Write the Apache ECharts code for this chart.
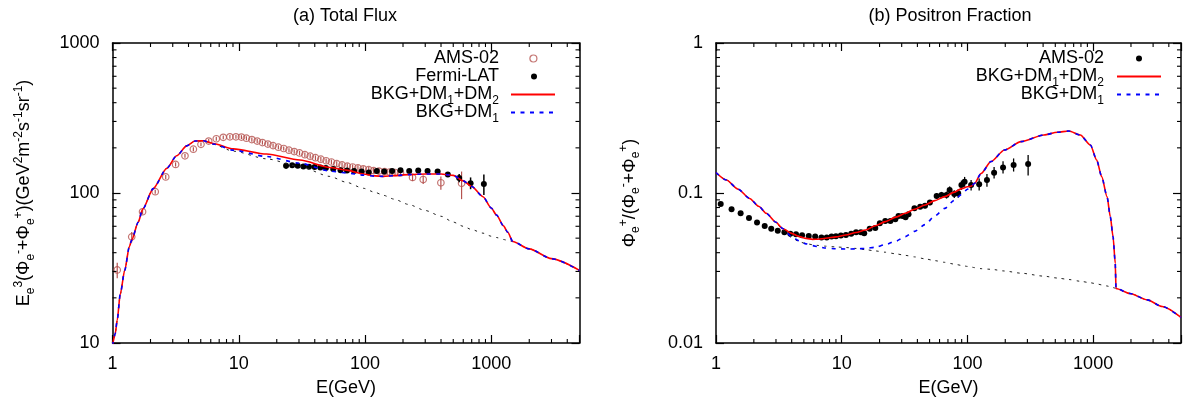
<!DOCTYPE html>
<html>
<head>
<meta charset="utf-8">
<script src="https://cdn.jsdelivr.net/npm/echarts@6/dist/echarts.min.js"></script>
<style>
  html, body { margin: 0; padding: 0; background: #fff; }
  #chart { width: 1184px; height: 402px; }
</style>
</head>
<body>
<div id="chart"></div>
<script>
// ---------- (a) Total Flux ----------
// model curves, E in GeV
const fluxE     = [1.0, 1.05, 1.09, 1.15, 1.25, 1.36, 1.42, 1.6, 1.73, 2.1, 2.69, 3.22, 3.87, 4.5, 5.24, 6.28, 9.06, 16.6, 30.5, 52.7, 71, 97, 120, 140, 170, 220, 300, 400, 500, 600, 700, 860, 1000, 1100, 1250, 1350, 1480, 2000, 3000, 5000];
const fluxDm12  = [9.6, 11.5, 14.2, 21, 30.5, 44, 48.6, 64, 77.8, 107, 146, 177, 206, 222, 223, 214, 197, 182, 166, 148, 142, 134, 130, 129, 130.5, 132.5, 134, 134, 131, 120.5, 110.5, 94.5, 79.5, 71.3, 60.4, 54.7, 47.5, 42.4, 36.5, 30.5];
const fluxDm1   = [9.6, 11.5, 14.2, 21, 30.5, 44, 48.6, 64, 77.8, 107, 146, 177, 206, 222, 223, 212, 193, 175, 158, 140, 136, 131.5, 129.5, 129, 130.5, 132.5, 134, 134, 131, 120.5, 110.5, 94.5, 79.5, 71.3, 60.4, 54.7, 47.5, 42.4, 36.5, 30.5];
const fluxBkg   = [9.6, 11.5, 14.2, 21, 30.5, 44, 48.6, 64, 77.8, 107, 146, 177, 206, 222, 223, 211, 190, 169, 150, 129, 118, 107.5, 101, 96.5, 91, 84, 76.5, 70, 64, 60, 57, 54, 51.5, 50.5, 49, 48.3, 47.5, 42.4, 36.5, 30.5];

// AMS-02 (e+ + e-) flux
const amsFluxE  = [1.09, 1.42, 1.73, 2.18, 2.64, 3.16, 3.75, 4.37, 5.02, 5.78, 6.64, 7.54, 8.51, 9.5, 10.5, 11.5, 12.7, 14.0, 15.4, 17.0, 18.7, 20.6, 22.7, 25.0, 27.5, 30.3, 33.4, 36.8, 40.5, 44.7, 49.2, 54.2, 59.7, 65.8, 72.4, 79.8, 87.9, 96.8, 107, 117, 129, 143, 157, 173, 191, 238, 289, 399, 582];
const amsFluxV  = [30.7, 51, 75, 102, 128, 155, 177, 196, 211, 222, 230, 235, 237, 237, 236, 232, 227, 222, 217, 212, 207, 202, 198, 193, 189, 185, 180, 176, 172, 168, 164, 161, 157, 154, 151, 149, 147, 145, 143, 141, 140, 139, 138, 137, 136, 127, 123, 117, 116];
const amsFluxLo = [27.0, 47, 72, 99, 124, 150, 172, 190, 205, 215, 223, 228, 230, 230, 229, 225, 220, 215, 210, 205, 200, 196, 192, 187, 183, 179, 174, 170, 166, 162, 158, 155, 151, 148, 145, 143, 141, 139, 137, 135, 134, 133, 132, 131, 130, 120, 115, 105, 91];
const amsFluxHi = [34.3, 55, 78, 105, 132, 160, 182, 202, 217, 229, 237, 242, 244, 244, 243, 239, 234, 229, 224, 219, 214, 208, 204, 199, 195, 191, 186, 182, 178, 174, 170, 167, 163, 160, 157, 155, 153, 151, 149, 147, 146, 145, 144, 143, 142, 134, 131, 129, 139];

// Fermi-LAT
const fermiE  = [23.7, 26.5, 29.3, 32.5, 36.0, 39.9, 44.3, 49.0, 56, 64, 72, 82, 94, 107, 124, 142, 164, 191, 224, 264, 313, 376, 453, 557, 686, 874];
const fermiV  = [152, 153, 152, 150, 149.6, 149, 148, 146.6, 144.5, 142, 141, 140, 139, 137, 140, 139, 140, 142, 140, 141, 140, 139, 133, 126, 116, 115];
const fermiLo = [145, 149, 148, 146, 146, 145, 144, 143, 141, 138, 137, 136, 135, 133, 136, 135, 136, 138, 136, 136, 135, 134, 128, 118, 106, 97];
const fermiHi = [159, 157, 156, 154, 153, 153, 152, 150, 148, 146, 145, 144, 143, 141, 144, 143, 144, 146, 144, 146, 145, 144, 138, 134, 127, 133];

// ---------- (b) Positron Fraction ----------
const pfE    = [1, 1.21, 1.5, 1.85, 2.2, 2.51, 3.0, 3.39, 4.0, 4.6, 5.2, 5.87, 6.5, 7.46, 9.0, 10.8, 13, 15.5, 18.5, 22.2, 27, 32, 38, 46, 55, 66, 78, 90, 100, 107, 114, 128.5, 154, 197, 267, 406, 520, 641, 791, 951, 1067, 1170, 1290, 1370, 1440, 1500, 1520, 1960, 2690, 3550, 5000];
const pfDm12 = [0.137, 0.122, 0.106, 0.092, 0.0812, 0.0732, 0.0638, 0.058, 0.0538, 0.0512, 0.0498, 0.0491, 0.0492, 0.0499, 0.051, 0.0525, 0.0545, 0.0567, 0.0605, 0.0644, 0.069, 0.0732, 0.078, 0.0832, 0.089, 0.0946, 0.101, 0.107, 0.110, 0.111, 0.116, 0.135, 0.162, 0.1936, 0.22, 0.2436, 0.254, 0.259, 0.2436, 0.209, 0.166, 0.1285, 0.0946, 0.0695, 0.0512, 0.034, 0.0231, 0.0214, 0.0194, 0.0175, 0.0148];
const pfDm1  = [0.137, 0.122, 0.106, 0.092, 0.0812, 0.0732, 0.0638, 0.058, 0.051, 0.048, 0.0458, 0.0446, 0.0438, 0.043, 0.0425, 0.0423, 0.0424, 0.0427, 0.0435, 0.0453, 0.0478, 0.0512, 0.0555, 0.0615, 0.0702, 0.079, 0.089, 0.098, 0.106, 0.111, 0.116, 0.135, 0.162, 0.1936, 0.22, 0.2436, 0.254, 0.259, 0.2436, 0.209, 0.166, 0.1285, 0.0946, 0.0695, 0.0512, 0.034, 0.0231, 0.0214, 0.0194, 0.0175, 0.0148];
const pfBkg  = [0.137, 0.122, 0.106, 0.092, 0.0812, 0.0732, 0.0638, 0.0565, 0.0505, 0.0472, 0.046, 0.0452, 0.0447, 0.0442, 0.0437, 0.0433, 0.0427, 0.0419, 0.0411, 0.0403, 0.0393, 0.0384, 0.0375, 0.0364, 0.0354, 0.0345, 0.0336, 0.0329, 0.0324, 0.0321, 0.0318, 0.0313, 0.031, 0.0302, 0.0292, 0.0279, 0.0271, 0.0265, 0.0258, 0.0252, 0.0248, 0.0244, 0.024, 0.0237, 0.0234, 0.0232, 0.0231, 0.0214, 0.0194, 0.0175, 0.0148];

// AMS-02 positron fraction
const amsPfE  = [1.09, 1.33, 1.57, 1.83, 2.12, 2.44, 2.75, 3.1, 3.5, 3.9, 4.33, 4.84, 5.47, 6.15, 6.9, 7.6, 8.3, 9.0, 9.85, 10.8, 11.9, 13.0, 14.2, 15.1, 16.7, 18.5, 20.1, 22.2, 24.4, 26.7, 28.3, 30.4, 32.2, 34.0, 37.9, 42.1, 46, 50.3, 56.9, 62.2, 68.2, 72.2, 78.6, 84.4, 89.6, 95, 107, 124, 143, 163, 192, 233, 304];
const amsPfV  = [0.0845, 0.0779, 0.0732, 0.0681, 0.0637, 0.0603, 0.0578, 0.0561, 0.0547, 0.0536, 0.053, 0.0522, 0.0517, 0.0512, 0.0506, 0.0506, 0.0512, 0.0515, 0.052, 0.0525, 0.0536, 0.0547, 0.0547, 0.0539, 0.0578, 0.0585, 0.0628, 0.065, 0.065, 0.0668, 0.0703, 0.0703, 0.0689, 0.0721, 0.0791, 0.081, 0.0823, 0.0863, 0.0955, 0.097, 0.097, 0.1047, 0.0985, 0.0995, 0.113, 0.119, 0.113, 0.1143, 0.122, 0.1367, 0.148, 0.1538, 0.156];
const amsPfLo = [0.0835, 0.077, 0.0724, 0.0674, 0.063, 0.0597, 0.0572, 0.0555, 0.0541, 0.053, 0.0524, 0.0516, 0.0511, 0.0506, 0.05, 0.05, 0.0505, 0.0508, 0.0513, 0.0517, 0.0528, 0.0538, 0.0537, 0.0528, 0.0566, 0.0572, 0.0613, 0.0634, 0.0633, 0.065, 0.0683, 0.0682, 0.0667, 0.0697, 0.0765, 0.0781, 0.0791, 0.0827, 0.0912, 0.0923, 0.0918, 0.0988, 0.0925, 0.093, 0.105, 0.11, 0.104, 0.104, 0.11, 0.125, 0.135, 0.139, 0.131];
const amsPfHi = [0.0855, 0.0788, 0.074, 0.0688, 0.0644, 0.0609, 0.0584, 0.0567, 0.0553, 0.0542, 0.0536, 0.0528, 0.0523, 0.0518, 0.0512, 0.0512, 0.0519, 0.0522, 0.0527, 0.0533, 0.0544, 0.0556, 0.0557, 0.055, 0.059, 0.0598, 0.0643, 0.0666, 0.0667, 0.0686, 0.0723, 0.0724, 0.0711, 0.0745, 0.0817, 0.0839, 0.0855, 0.0899, 0.0998, 0.1017, 0.1022, 0.1106, 0.1045, 0.106, 0.121, 0.128, 0.122, 0.125, 0.134, 0.149, 0.163, 0.17, 0.179];

// axis ranges and ticks
const eRange = [1, 5000];
const fluxRange = [10, 1000];
const pfRange = [0.01, 1];
const eMinor = [2, 3, 4, 5, 6, 7, 8, 9, 20, 30, 40, 50, 60, 70, 80, 90, 200, 300, 400, 500, 600, 700, 800, 900, 2000, 3000, 4000];
const fluxMinor = [20, 30, 40, 50, 60, 70, 80, 90, 200, 300, 400, 500, 600, 700, 800, 900];
const pfMinor = [0.02, 0.03, 0.04, 0.05, 0.06, 0.07, 0.08, 0.09, 0.2, 0.3, 0.4, 0.5, 0.6, 0.7, 0.8, 0.9];

const FONT = '"Liberation Sans", Arial, Helvetica, sans-serif';
const AMS_RED = '#b5524f';
const RICH = {
  n:   { fontSize: 18, fontFamily: FONT, color: '#000', lineHeight: 24 },
  sub: { fontSize: 12, fontFamily: FONT, color: '#000', lineHeight: 12, verticalAlign: 'bottom' },
  sup: { fontSize: 12, fontFamily: FONT, color: '#000', lineHeight: 12, verticalAlign: 'top' }
};

function pairs(xs, ys) { return xs.map((x, i) => [x, ys[i]]); }
function triples(xs, lo, hi) { return xs.map((x, i) => [x, lo[i], hi[i]]); }

function decadeLabel(v) {
  const l = Math.log10(v);
  return Math.abs(l - Math.round(l)) < 1e-6 ? String(+v.toPrecision(6)) : '';
}

const lineAx = { lineStyle: { color: '#000', width: 1.5 }, onZero: false };
const tickAx = { inside: true, length: 8, lineStyle: { color: '#000', width: 1.2 } };

function xAxes(grid, range) {
  return [
    { gridIndex: grid, type: 'log', logBase: 10, min: range[0], max: range[1], position: 'bottom',
      axisLine: lineAx, axisTick: tickAx, splitLine: { show: false },
      axisLabel: { color: '#000', fontSize: 18, fontFamily: FONT, margin: 12, formatter: decadeLabel },
      name: 'E(GeV)', nameLocation: 'middle', nameGap: 36,
      nameTextStyle: { color: '#000', fontSize: 18, fontFamily: FONT } },
    { gridIndex: grid, type: 'log', logBase: 10, min: range[0], max: range[1], position: 'top',
      axisLine: lineAx, axisTick: tickAx, splitLine: { show: false }, axisLabel: { show: false } }
  ];
}

function yAxes(grid, range, name, gap) {
  return [
    { gridIndex: grid, type: 'log', logBase: 10, min: range[0], max: range[1], position: 'left',
      axisLine: lineAx, axisTick: tickAx, splitLine: { show: false },
      axisLabel: { color: '#000', fontSize: 18, fontFamily: FONT, margin: 13, formatter: decadeLabel },
      name: name, nameLocation: 'middle', nameRotate: 90, nameGap: gap,
      nameTextStyle: { color: '#000', fontSize: 18, fontFamily: FONT, rich: RICH } },
    { gridIndex: grid, type: 'log', logBase: 10, min: range[0], max: range[1], position: 'right',
      axisLine: lineAx, axisTick: tickAx, splitLine: { show: false }, axisLabel: { show: false } }
  ];
}

// minor ticks on all four sides
function xMinorTicks(ax, ticks, yr) {
  return {
    type: 'custom', xAxisIndex: ax, yAxisIndex: ax, silent: true, z: 20, clip: false,
    data: ticks.map(v => [v, yr[0]]),
    renderItem(params, api) {
      const b = api.coord([api.value(0), yr[0]]);
      const t = api.coord([api.value(0), yr[1]]);
      const st = { stroke: '#000', lineWidth: 1.1 };
      return { type: 'group', children: [
        { type: 'line', shape: { x1: b[0], y1: b[1], x2: b[0], y2: b[1] - 4 }, style: st },
        { type: 'line', shape: { x1: t[0], y1: t[1], x2: t[0], y2: t[1] + 4 }, style: st }
      ] };
    }
  };
}
function yMinorTicks(ax, ticks, xr) {
  return {
    type: 'custom', xAxisIndex: ax, yAxisIndex: ax, silent: true, z: 20, clip: false,
    data: ticks.map(v => [xr[0], v]),
    renderItem(params, api) {
      const l = api.coord([xr[0], api.value(1)]);
      const r = api.coord([xr[1], api.value(1)]);
      const st = { stroke: '#000', lineWidth: 1.1 };
      return { type: 'group', children: [
        { type: 'line', shape: { x1: l[0], y1: l[1], x2: l[0] + 4, y2: l[1] }, style: st },
        { type: 'line', shape: { x1: r[0], y1: r[1], x2: r[0] - 4, y2: r[1] }, style: st }
      ] };
    }
  };
}

function errorBars(ax, data, color, width) {
  return {
    type: 'custom', xAxisIndex: ax, yAxisIndex: ax, silent: true, z: 4,
    data: data, encode: { x: 0, y: [1, 2] },
    renderItem(params, api) {
      const a = api.coord([api.value(0), api.value(1)]);
      const b = api.coord([api.value(0), api.value(2)]);
      return { type: 'line', shape: { x1: a[0], y1: a[1], x2: b[0], y2: b[1] },
               style: { stroke: color, lineWidth: width } };
    }
  };
}

function curve(ax, name, xs, ys, color, type, width, z) {
  return {
    type: 'line', name: name, xAxisIndex: ax, yAxisIndex: ax, data: pairs(xs, ys),
    symbol: 'none', showSymbol: false, smooth: 0.25, smoothMonotone: 'x', silent: true,
    lineStyle: { color: color, type: type, width: width }, itemStyle: { color: color }, z: z
  };
}

const legendText = {
  'a-ams': '{n|AMS-02}',
  'a-fermi': '{n|Fermi-LAT}',
  'a-dm12': '{n|BKG+DM}{sub|1}{n|+DM}{sub|2}',
  'a-dm1': '{n|BKG+DM}{sub|1}',
  'b-ams': '{n|AMS-02}',
  'b-dm12': '{n|BKG+DM}{sub|1}{n|+DM}{sub|2}',
  'b-dm1': '{n|BKG+DM}{sub|1}'
};

// hides the symbol that line series put in the middle of their legend icon
const noSymbol = { itemStyle: { color: 'rgba(0,0,0,0)', borderColor: 'rgba(0,0,0,0)', borderWidth: 0, opacity: 0 } };

function legendItem(name, right, top, w, h, gap, extra) {
  const rich = Object.assign({ gap: { width: gap, fontSize: 18, lineHeight: 24 } }, RICH);
  return Object.assign({
    data: [name], orient: 'vertical', align: 'right', right: right, top: top,
    itemWidth: w, itemHeight: h, itemGap: 0, padding: 0, selectedMode: false,
    formatter: n => legendText[n] + '{gap| }',
    textStyle: { color: '#000', fontSize: 18, fontFamily: FONT, rich: rich }
  }, extra || {});
}

const fluxName = '{n|E}{sub|e}{sup|3}{n|(Φ}{sub|e}{sup|-}{n|+Φ}{sub|e}{sup|+}{n|)(GeV}{sup|2}{n|m}{sup|-2}{n|s}{sup|-1}{n|sr}{sup|-1}{n|)}';
const pfName = '{n|Φ}{sub|e}{sup|+}{n|/(Φ}{sub|e}{sup|-}{n|+Φ}{sub|e}{sup|+}{n|)}';

const option = {
  animation: false,
  backgroundColor: '#fff',
  graphic: [
    { type: 'text', x: 345, y: 16, style: { text: '(a) Total Flux', fontSize: 18, fontFamily: FONT, fill: '#000', align: 'center', verticalAlign: 'middle' } },
    { type: 'text', x: 950, y: 16, style: { text: '(b) Positron Fraction', fontSize: 18, fontFamily: FONT, fill: '#000', align: 'center', verticalAlign: 'middle' } }
  ],
  grid: [
    { left: 112.5, top: 43, width: 467, height: 300 },
    { left: 716, top: 43, width: 469, height: 300 }
  ],
  xAxis: xAxes(0, eRange).concat(xAxes(1, eRange)),
  yAxis: yAxes(0, fluxRange, fluxName, 76).concat(yAxes(1, pfRange, pfName, 74)),
  legend: [
    legendItem('a-ams', 646.5, 49.5, 7, 7, 26, { itemStyle: { color: 'rgba(0,0,0,0)', borderColor: AMS_RED, borderWidth: 1.2 } }),
    legendItem('a-fermi', 647, 67.5, 6, 6, 27),
    legendItem('a-dm12', 628, 85.5, 44, 14, 7, noSymbol),
    legendItem('a-dm1', 628, 103.5, 44, 14, 7, noSymbol),
    legendItem('b-ams', 42, 49.5, 6, 6, 27),
    legendItem('b-dm12', 22, 67.5, 44, 14, 8, noSymbol),
    legendItem('b-dm1', 22, 85.5, 44, 14, 8, noSymbol)
  ],
  series: [
    // (a)
    errorBars(0, triples(amsFluxE, amsFluxLo, amsFluxHi), AMS_RED, 1.2),
    { type: 'scatter', name: 'a-ams', xAxisIndex: 0, yAxisIndex: 0, data: pairs(amsFluxE, amsFluxV),
      symbol: 'circle', symbolSize: 6.5, silent: true, z: 3,
      itemStyle: { color: 'rgba(0,0,0,0)', borderColor: AMS_RED, borderWidth: 1.2 } },
    errorBars(0, triples(fermiE, fermiLo, fermiHi), '#000', 1.5),
    { type: 'scatter', name: 'a-fermi', xAxisIndex: 0, yAxisIndex: 0, data: pairs(fermiE, fermiV),
      symbol: 'circle', symbolSize: 6, silent: true, z: 5, itemStyle: { color: '#000', opacity: 1 } },
    curve(0, 'a-bkg', fluxE, fluxBkg, '#222', [2.5, 5], 1, 6),
    curve(0, 'a-dm12', fluxE, fluxDm12, '#ff0000', 'solid', 1.6, 7),
    curve(0, 'a-dm1', fluxE, fluxDm1, '#0000ff', [4, 5.5], 1.6, 8),
    xMinorTicks(0, eMinor, fluxRange),
    yMinorTicks(0, fluxMinor, eRange),
    // (b)
    errorBars(2, triples(amsPfE, amsPfLo, amsPfHi), '#000', 1.3),
    { type: 'scatter', name: 'b-ams', xAxisIndex: 2, yAxisIndex: 2, data: pairs(amsPfE, amsPfV),
      symbol: 'circle', symbolSize: 6, silent: true, z: 5, itemStyle: { color: '#000', opacity: 1 } },
    curve(2, 'b-bkg', pfE, pfBkg, '#222', [2.5, 5], 1, 6),
    curve(2, 'b-dm12', pfE, pfDm12, '#ff0000', 'solid', 1.6, 7),
    curve(2, 'b-dm1', pfE, pfDm1, '#0000ff', [4, 5.5], 1.6, 8),
    xMinorTicks(2, eMinor, pfRange),
    yMinorTicks(2, pfMinor, eRange)
  ]
};

const chart = echarts.init(document.getElementById('chart'));
chart.setOption(option);
</script>
</body>
</html>
